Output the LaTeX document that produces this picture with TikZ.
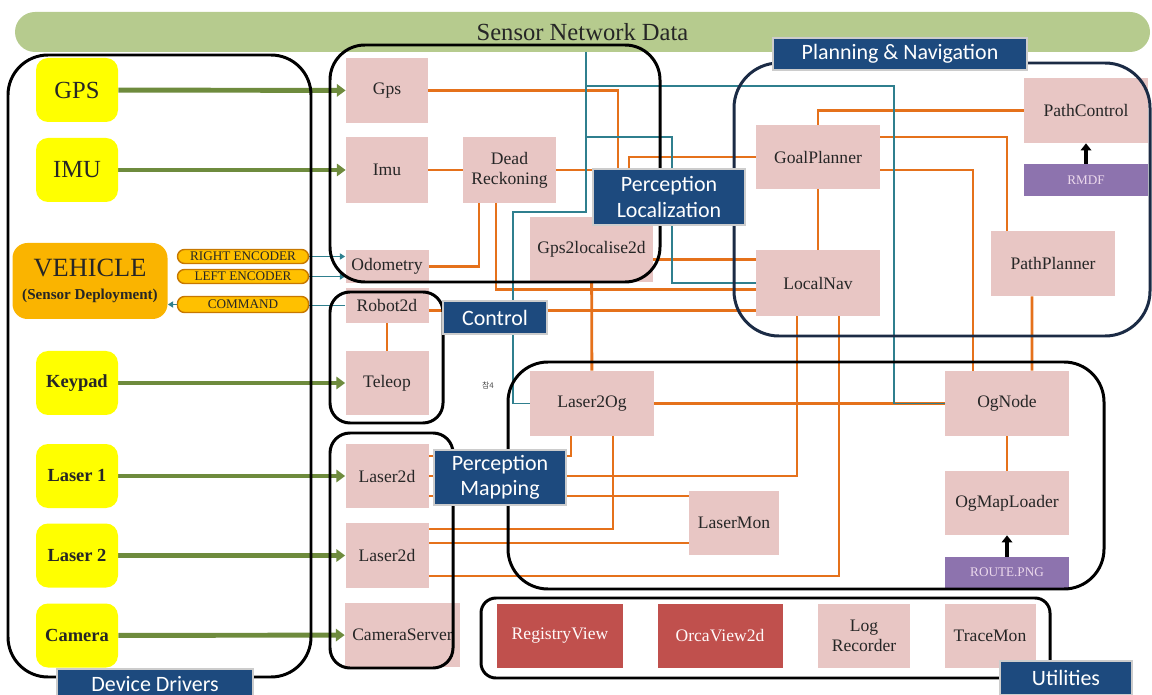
\documentclass[tikz,border=0pt]{standalone}
\usepackage{fontspec}
\setmainfont{Liberation Serif}
\newfontfamily\labelfont{Carlito}
\newfontfamily\krfont{Noto Sans CJK KR}
\usetikzlibrary{arrows.meta}
\definecolor{netgreen}{HTML}{B6CB8E}
\definecolor{arrowgreen}{HTML}{6E8B3D}
\definecolor{pinkbox}{HTML}{E8C6C4}
\definecolor{devyellow}{HTML}{FFFF00}
\definecolor{vehorange}{HTML}{FAB400}
\definecolor{encorange}{HTML}{FFC000}
\definecolor{encedge}{HTML}{C77800}
\definecolor{linkorange}{HTML}{E5711B}
\definecolor{linkteal}{HTML}{2F7F8E}
\definecolor{labelblue}{HTML}{1D4A7E}
\definecolor{navyedge}{HTML}{1B2B45}
\definecolor{utilred}{HTML}{C0504D}
\definecolor{filepurple}{HTML}{8D73AE}
\pgfdeclarelayer{bg}
\pgfdeclarelayer{fg}
\pgfsetlayers{bg,main,fg}
\tikzset{
	dims/.style 2 args={minimum width=#1*0.02cm, minimum height=#2*0.02cm},
	banner/.style={fill=netgreen, rounded corners=0.4cm, inner sep=0pt, text=black!85, font=\fontsize{14}{16}\selectfont},
	device/.style={fill=devyellow, rounded corners=0.24cm, inner sep=0pt, dims={82}{64}, text=black!85, font=\bfseries\fontsize{10.5}{12}\selectfont},
	vehicle/.style={fill=vehorange, rounded corners=0.3cm, inner sep=0pt, dims={155}{76}, align=center, text=black!85},
	signal/.style={fill=encorange, draw=encedge, line width=0.8pt, rounded corners=0.14cm, inner sep=0pt, dims={131}{14}, text=black!85, font=\fontsize{7.5}{8}\selectfont},
	comp/.style={fill=pinkbox, inner sep=0pt, align=center, text=black!85, font=\fontsize{10}{11.5}\selectfont},
	tool/.style={comp, fill=utilred, text=white!90!pink},
	datafile/.style={comp, fill=filepurple, text=white!85!violet, font=\fontsize{7.5}{8}\selectfont},
	group/.style={draw=black, line width=1.7pt},
	grouplabel/.style={fill=labelblue, draw=gray!40, line width=0.6pt, inner sep=0pt, align=center, text=white, font=\labelfont\fontsize{12.5}{14.5}\selectfont},
	feed/.style={draw=arrowgreen, line width=2.8pt, -{Triangle[length=5pt,width=7pt]}},
	wire/.style={draw=linkteal, line width=1.1pt},
	link/.style={draw=linkorange, line width=1.6pt},
	load/.style={draw=black, line width=2.2pt, -{Triangle[length=4pt,width=6pt]}}
}

\begin{document}
\begin{tikzpicture}[x=0.02cm, y=-0.02cm]
	\useasboundingbox (0,0) rectangle (1152,695);
	\node[banner, dims={1135}{40}] (network) at (582.5,32) {Sensor Network Data};
	
	\node[device, font=\fontsize{14}{16}\selectfont] (gps) at (77,90) {GPS};
	\node[device, font=\fontsize{14}{16}\selectfont] (imu) at (77,170) {IMU};
	\node[device] (keypad) at (77,383) {Keypad};
	\node[device] (laserA) at (77,476) {Laser 1};
	\node[device] (laserB) at (77,555.5) {Laser 2};
	\node[device] (camera) at (77,635.5) {Camera};
	\node[vehicle] (vehicle) at (90,281) {{\fontsize{15}{16}\selectfont VEHICLE}\\[1pt]{\bfseries\fontsize{8.6}{10}\selectfont (Sensor Deployment)}};
	\node[signal] (rightenc) at (243,256.5) {RIGHT ENCODER};
	\node[signal] (leftenc) at (243,276.5) {LEFT ENCODER};
	\node[signal, dims={131}{16}] (command) at (243,304.5) {COMMAND};
	
	\node[comp, dims={82}{65}] (gpsn) at (387,90.5) {Gps};
	\node[comp, dims={82}{66}] (imun) at (387,170) {Imu};
	\node[comp, dims={93}{66}] (dead) at (509.5,170) {Dead\\Reckoning};
	\node[comp, dims={83}{33}] (odom) at (387,266.5) {Odometry};
	\node[comp, dims={123}{65}] (gps2l) at (591.5,249.5) {Gps2localise2d};
	\node[comp, dims={83}{35}] (robot) at (387,305.5) {Robot2d};
	\node[comp, dims={83}{64}] (teleop) at (387,383) {Teleop};
	\node[comp, dims={83}{64}] (laserdA) at (387,476) {Laser2d};
	\node[comp, dims={83}{65}] (laserdB) at (387,555.5) {Laser2d};
	\node[comp, dims={115}{64}] (camserv) at (402.5,635) {CameraServer};
	\node[comp, dims={124}{65}] (laser2og) at (592,403.5) {Laser2Og};
	\node[comp, dims={90}{64}] (lasermon) at (734,523) {LaserMon};
	\node[comp, dims={124}{65}] (ognode) at (1007,403.5) {OgNode};
	\node[comp, dims={124}{64}] (ogmap) at (1007,503) {OgMapLoader};
	\node[datafile, dims={124}{31}] (route) at (1007,572.5) {ROUTE.PNG};
	\node[comp, dims={124}{64}] (goal) at (818,157) {GoalPlanner};
	\node[comp, dims={124}{66}] (localnav) at (818,283) {LocalNav};
	\node[comp, dims={124}{65}] (pathctl) at (1086,110.5) {PathControl};
	\node[datafile, dims={124}{32}] (rmdf) at (1086,180) {RMDF};
	\node[comp, dims={124}{65}] (pathplan) at (1053,263.5) {PathPlanner};
	\node[tool, dims={126}{64}] (regview) at (560,636) {RegistryView};
	\node[tool, dims={125}{64}] (orcaview) at (720,636) {OrcaView2d};
	\node[comp, dims={92}{64}] (logrec) at (864,636) {Log\\Recorder};
	\node[comp, dims={91}{64}] (tracemon) at (990,636) {TraceMon};
	\node[text=black!70, font=\krfont\fontsize{4.5}{5}\selectfont] (note) at (488,385) {참4};
	
	\coordinate (trunk) at (586,52);
	
	\begin{pgfonlayer}{bg}
		\draw[feed] (gps) -- (gpsn);
		\draw[feed] (imu) -- (imun);
		\draw[feed] (keypad) -- (teleop);
		\draw[feed] (laserA) -- (laserdA);
		\draw[feed] (laserB) -- (laserdB);
		\draw[feed] (camera) -- (camserv);
		
		\draw[wire, -{Triangle[length=3pt,width=3.5pt]}] (rightenc.east) -- (rightenc.east -| odom.west);
		\draw[wire, -{Triangle[length=3pt,width=3.5pt]}] (leftenc.east) -- (leftenc.east -| odom.west);
		\draw[wire] (robot.west) -- (robot.west -| command.east);
		\draw[wire, -{Triangle[length=3pt,width=3.5pt]}] (command.west) -- (command.west -| vehicle.east);
		
		\draw[link] (gpsn.east) -| ([xshift=0.53cm]gps2l.north);
		\draw[link] (imun) -- (dead);
		\draw[link] (dead.east) -| (629,157) -- (goal.west);
		\draw[link] (odom.east) -| ([xshift=-0.61cm]dead.south);
		\draw[link] ([xshift=-0.27cm]dead.south) |- ([yshift=-0.13cm]localnav.west);
		\draw[link] ([yshift=-0.1cm]robot.east) -- ([yshift=-0.1cm]robot.east -| localnav.west);
		\draw[link] ([yshift=-0.2cm]gps2l.east) -- ([yshift=-0.2cm]gps2l.east -| localnav.west);
		\draw[link] (gps2l) -- (laser2og);
		\draw[link] (robot) -- (teleop);
		\draw[link] (goal.north) |- (pathctl.west);
		\draw[link] ([yshift=0.4cm]goal.east) -| ([xshift=-0.92cm]pathplan.north);
		\draw[link] ([yshift=-0.26cm]goal.east) -| ([xshift=-0.68cm]ognode.north);
		\draw[link] ([xshift=-0.42cm]pathplan.south) -- ([xshift=0.5cm]ognode.north);
		\draw[link] (goal) -- (localnav);
		\draw[link] (ognode) -- (ogmap);
		\draw[link] ([xshift=-0.42cm]localnav.south) |- (laserdA.east);
		\draw[link] ([xshift=0.42cm]localnav.south) |- ([yshift=-0.41cm]laserdB.east);
		\draw[link] ([yshift=0.4cm]laserdA.east) -| ([xshift=-0.42cm]laser2og.south);
		\draw[link] ([yshift=-0.4cm]laserdA.east) -- ([yshift=-0.4cm]laserdA.east -| lasermon.west);
		\draw[link] ([yshift=0.53cm]laserdB.east) -| ([xshift=0.42cm]laser2og.south);
		\draw[link] ([yshift=0.25cm]laserdB.east) -- ([yshift=0.25cm]laserdB.east -| lasermon.west);
		\draw[link] (laser2og) -- (ognode);
		
		\draw[wire] (trunk) |- (513,212) |- (laser2og.west);
		\draw[wire] (586,137) -- (672,137) |- (localnav.west);
		\draw[wire] (586,86) -- (894,86) |- (ognode.west);
	\end{pgfonlayer}
	
	\draw[load] (rmdf) -- (pathctl);
	\draw[load] (route) -- (ogmap);
	
	\begin{pgfonlayer}{fg}
		\draw[group, rounded corners=0.8cm] (8,55) rectangle (311,677);
		\draw[group, rounded corners=0.7cm] (330,45) rectangle (660,282);
		\draw[group, rounded corners=0.4cm] (330,292) rectangle (443,423);
		\draw[group, rounded corners=0.4cm] (330,433) rectangle (453,668);
		\draw[group, rounded corners=0.8cm] (508,362) rectangle (1104,589);
		\draw[group, draw=navyedge, rounded corners=0.9cm] (734,63) rectangle (1150,336);
		\draw[group, rounded corners=0.3cm] (481,598) rectangle (1050,678);
		
		\node[grouplabel, dims={254}{32}] (planlabel) at (900,54) {Planning \& Navigation};
		\node[grouplabel, dims={152}{56}] (loclabel) at (669,197) {Perception\\Localization};
		\node[grouplabel, dims={104}{33}] (ctllabel) at (495,317.5) {Control};
		\node[grouplabel, dims={132}{55}] (maplabel) at (500,477.5) {Perception\\Mapping};
		\node[grouplabel, dims={196}{30}] (devlabel) at (155,684) {Device Drivers};
		\node[grouplabel, dims={132}{34}] (utillabel) at (1066,678) {Utilities};
	\end{pgfonlayer}
\end{tikzpicture}
\end{document}
